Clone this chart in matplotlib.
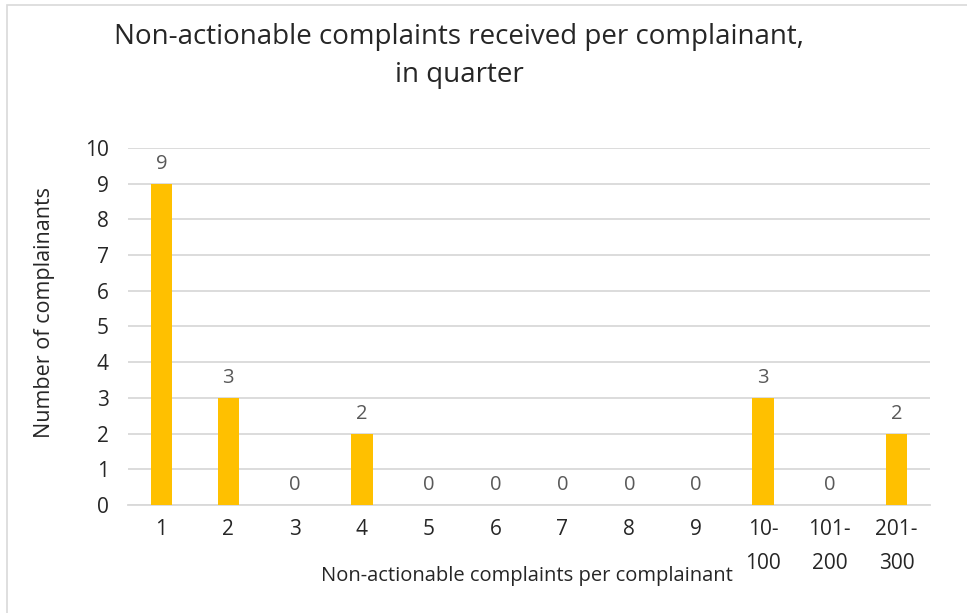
import matplotlib.pyplot as plt
from matplotlib.patches import Rectangle

# complaints per complainant, in quarter
categories = ["1", "2", "3", "4", "5", "6", "7", "8", "9", "10-\n100", "101-\n200", "201-\n300"]
counts = [9, 3, 0, 2, 0, 0, 0, 0, 0, 3, 0, 2]
yticks = list(range(0, 11))

plt.rcParams['font.family'] = ['Open Sans', 'DejaVu Sans']

fig = plt.figure(figsize=(9.67, 6.13), dpi=100)
ax = fig.add_axes([0.1324, 0.1762, 0.8294, 0.5824])

# outer chart border (cut off at right and bottom)
fig.patches.append(Rectangle((7 / 967, -0.1), 1.2, 1 - 5 / 613 + 0.1,
                             transform=fig.transFigure, fill=False,
                             edgecolor='#d9d9d9', linewidth=1.2))

x = list(range(len(categories)))
bars = ax.bar(x, counts, width=0.32, color='#FFC000', zorder=3)

for xi, v in zip(x, counts):
    ax.annotate(str(v), (xi, v), xytext=(0, 7), textcoords='offset points',
                ha='center', va='bottom', fontsize=14.5, color='#595959')

ax.set_xlim(-0.5, len(categories) - 0.5)
ax.set_ylim(0, 10)
ax.set_yticks(yticks)
ax.set_xticks(x)
ax.set_xticklabels(categories, fontsize=15, color='#262626', linespacing=1.8, va='top')
ax.tick_params(axis='y', labelsize=15, labelcolor='#262626', length=0, pad=14)
ax.tick_params(axis='x', length=0, pad=10)

ax.grid(axis='y', color='#d9d9d9', linewidth=1.3, zorder=0)
for s in ['top', 'right', 'left']:
    ax.spines[s].set_visible(False)
ax.spines['bottom'].set_color('#d9d9d9')
ax.spines['bottom'].set_linewidth(1.3)

fig.text(527 / 967, 1 - 576 / 613, "Non-actionable complaints per complainant",
         ha='center', va='center', fontsize=14.5, color='#262626')
fig.text(45 / 967, 1 - 313 / 613, "Number of complainants", rotation=90,
         ha='center', va='center', fontsize=15.5, color='#262626')

fig.text(459 / 967, 1 - 56 / 613, "Non-actionable complaints received per complainant,\nin quarter",
         ha='center', va='center', fontsize=20, color='#262626', linespacing=1.45)

fig.savefig("out.png", dpi=100)
